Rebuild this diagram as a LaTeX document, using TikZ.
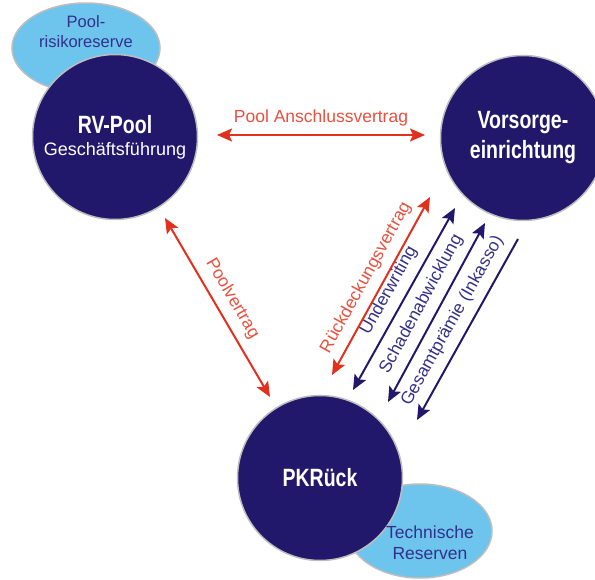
\documentclass[tikz,border=0pt]{standalone}
\usepackage{fontspec}
\setmainfont{Liberation Sans}
\newfontfamily\namefont[FakeStretch=0.78]{Liberation Sans}
\usetikzlibrary{arrows.meta,shapes.geometric,positioning}
\definecolor{pknavy}{HTML}{22186B}
\definecolor{pkred}{HTML}{E2301F}
\definecolor{pkredtext}{HTML}{E8503F}
\definecolor{pksky}{HTML}{6DC5EE}
\definecolor{pkrim}{HTML}{BDBDBD}
\definecolor{pktext}{HTML}{34308A}

\begin{document}
\begin{tikzpicture}[x=1pt,y=-1pt,
  party/.style={circle,minimum size=165pt,inner sep=0pt,fill=pknavy,draw=pkrim,line width=1.5pt,text=white,align=center},
  reserve/.style={ellipse,fill=pksky,draw=pkrim,line width=1.5pt},
  restext/.style={text=pktext,align=center,font=\fontsize{16.5}{20}\selectfont},
  link/.style={line width=2pt,{Stealth[length=15pt,width=13pt,inset=3pt]}-{Stealth[length=15pt,width=13pt,inset=3pt]}},
  flow/.style={line width=2pt,-{Stealth[length=15pt,width=13pt,inset=3pt]}},
  lab/.style={font=\fontsize{17.5}{20}\selectfont,sloped,above=5pt,inner sep=3pt}
]
\useasboundingbox (0,0) rectangle (595,580);

  \node[reserve,minimum width=148pt,minimum height=90pt] (pr) at (86,48) {};
  \node[restext] (prt) at (86,32) {Pool-\\risikoreserve};
  \node[party,font=\fontsize{18}{22}\selectfont] (rv) at (115,137)
    {{\namefont\bfseries\fontsize{25}{30}\selectfont RV-Pool}\\Geschäftsführung};
  \node[party,font=\namefont\bfseries\fontsize{25}{30}\selectfont] (vs) at (523,138)
    {Vorsorge-\\einrichtung};
  \node[reserve,minimum width=144pt,minimum height=94pt] (tr) at (420,531) {};
  \node[party,font=\namefont\bfseries\fontsize{25}{30}\selectfont] (pk) at (320,478) {PKRück};
  \node[restext,font=\fontsize{17.5}{21}\selectfont] (trt) at (430,543) {Technische\\Reserven};

  \coordinate (a1) at (217,135);
  \coordinate (a2) at (425,135);
  \coordinate (p1) at (165,218);
  \coordinate (p2) at (270,397);
  \coordinate (r1) at (332,375);
  \coordinate (r2) at (430,197);
  \coordinate (u1) at (353,390);
  \coordinate (u2) at (455,208);
  \coordinate (s1) at (388,402);
  \coordinate (s2) at (485,223);
  \coordinate (g1) at (518,239);
  \coordinate (g2) at (417,420);

  \draw[link,pkred] (a1) -- node[lab,text=pkredtext,above=5pt] {Pool Anschlussvertrag} (a2);
  \draw[link,pkred] (p1) -- node[lab,text=pkredtext] {Poolvertrag} (p2);
  \draw[link,pkred] (r1) -- node[lab,text=pkredtext] {Rückdeckungsvertrag} (r2);
  \draw[link,pknavy] (u1) -- node[lab,text=pktext] {Underwriting} (u2);
  \draw[link,pknavy] (s1) -- node[lab,text=pktext] {Schadenabwicklung} (s2);
  \draw[flow,pknavy] (g1) -- node[lab,text=pktext] {Gesamtprämie (Inkasso)} (g2);
\end{tikzpicture}
\end{document}
